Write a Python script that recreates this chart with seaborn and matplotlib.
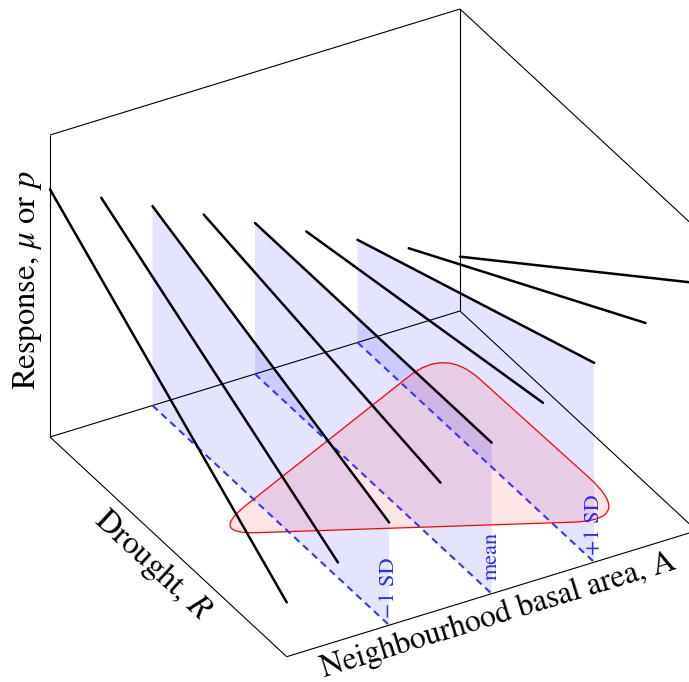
import numpy as np
import pandas as pd
import matplotlib
matplotlib.use("Agg")
import matplotlib.pyplot as plt
from matplotlib.path import Path
from matplotlib.patches import PathPatch
import seaborn as sns

# ---------------- data (unit-cube coordinates) ----------------
# A = neighbourhood basal area, R = drought, Z = response
basal_area_levels = [0.0, 0.125, 0.25, 0.375, 0.5, 0.625, 0.75, 0.875, 1.0]
response_at_low_drought = [0.82, 0.74, 0.66, 0.58, 0.50, 0.42, 0.34, 0.26, 0.18]
response_at_high_drought = [0.18, 0.26, 0.34, 0.42, 0.50, 0.58, 0.66, 0.74, 0.82]
drought_range = [0.0, 1.0]

sd_labels = ["\u22121 SD", "mean", "+1 SD"]
sd_basal_area = [0.25, 0.5, 0.75]

hull_basal_area = [0.10, 0.90, 0.91]
hull_drought = [0.50, 0.11, 0.90]

label_response = "Response, $\\mu$ or $p$"
label_drought = "Drought, $R$"
label_basal = "Neighbourhood basal area, A"

# ---------------- projection (layout) ----------------
ORIGIN = np.array([50.0, 437.0])
VA = np.array([410.0, -126.0])
VR = np.array([236.7, 219.7])
VZ = np.array([0.0, -302.0])


def proj(a, r, z):
    a = np.asarray(a, float)
    r = np.asarray(r, float)
    z = np.asarray(z, float)
    x = ORIGIN[0] + VA[0] * a + VR[0] * r + VZ[0] * z
    y = ORIGIN[1] + VA[1] * a + VR[1] * r + VZ[1] * z
    return x, y


sns.set_theme(style="white")
plt.rcParams["font.family"] = ["STIXGeneral", "DejaVu Serif"]
plt.rcParams["mathtext.fontset"] = "stix"

fig = plt.figure(figsize=(6.89, 6.82), dpi=100)
ax = fig.add_axes([0, 0, 1, 1])

# ---- blue vertical planes at -1 SD, mean, +1 SD ----
for a_sd in sd_basal_area:
    i = basal_area_levels.index(a_sd)
    z0, z1 = response_at_low_drought[i], response_at_high_drought[i]
    px, py = proj([a_sd, a_sd, a_sd, a_sd],
                  [drought_range[0], drought_range[0], drought_range[1], drought_range[1]],
                  [0, z0, z1, 0])
    ax.fill(px, py, color="blue", alpha=0.105, lw=0, zorder=1)

# ---- rounded hull on the floor ----
hx, hy = proj(hull_basal_area, hull_drought, [0, 0, 0])
V = np.column_stack([hx, hy])
corner_d = [47.0, 46.0, 64.0]
verts, codes = [], []
n = len(V)
for k in range(n):
    prev_v, cur, nxt = V[k - 1], V[k], V[(k + 1) % n]
    u1 = (prev_v - cur) / np.linalg.norm(prev_v - cur)
    u2 = (nxt - cur) / np.linalg.norm(nxt - cur)
    p0 = cur + corner_d[k] * u1
    p2 = cur + corner_d[k] * u2
    if k == 0:
        verts.append(p0); codes.append(Path.MOVETO)
    else:
        verts.append(p0); codes.append(Path.LINETO)
    verts += [cur, p2]; codes += [Path.CURVE3, Path.CURVE3]
verts.append(verts[0]); codes.append(Path.LINETO)
verts.append(verts[0]); codes.append(Path.CLOSEPOLY)
hull_path = Path(np.array(verts), codes)
ax.add_patch(PathPatch(hull_path, facecolor=(1, 0, 0, 0.1), edgecolor="red",
                       lw=0.9, zorder=2))

# ---- box edges ----
box_edges = [
    ((0, 0, 0), (0, 0, 1)), ((0, 0, 1), (1, 0, 1)), ((1, 0, 0), (1, 0, 1)),
    ((1, 0, 1), (1, 1, 1)), ((1, 1, 1), (1, 1, 0)),
    ((0, 0, 0), (1, 0, 0)), ((0, 0, 0), (0, 1, 0)),
    ((0, 1, 0), (1, 1, 0)), ((1, 0, 0), (1, 1, 0)),
]
for p, q in box_edges:
    ex, ey = proj([p[0], q[0]], [p[1], q[1]], [p[2], q[2]])
    ax.plot(ex, ey, color="black", lw=0.8, zorder=3, solid_capstyle="butt")

# ---- dashed floor lines ----
dash_rows = []
for j, a_sd in enumerate(sd_basal_area):
    dx, dy = proj([a_sd, a_sd], drought_range, [0, 0])
    for xx, yy in zip(dx, dy):
        dash_rows.append({"line": j, "x": xx, "y": yy})
dash_df = pd.DataFrame(dash_rows)
sns.lineplot(data=dash_df, x="x", y="y", units="line", estimator=None, sort=False,
             color="#3535ff", lw=1.5, dashes=False, ax=ax, legend=False, zorder=4)
for ln in ax.lines[-len(sd_basal_area):]:
    ln.set_dashes((3.4, 2.4))

# ---- response lines ----
rows = []
for i, a in enumerate(basal_area_levels):
    zs = [response_at_low_drought[i], response_at_high_drought[i]]
    lx, ly = proj([a, a], drought_range, zs)
    for xx, yy in zip(lx, ly):
        rows.append({"line": i, "x": xx, "y": yy})
lines_df = pd.DataFrame(rows)
sns.lineplot(data=lines_df, x="x", y="y", units="line", estimator=None, sort=False,
             color="black", lw=1.8, ax=ax, legend=False, zorder=5)

# ---- SD labels ----
for a_sd, lab in zip(sd_basal_area, sd_labels):
    tx, ty = proj(a_sd, 1.0, 0.125)
    ax.text(tx, ty, lab, rotation=90, ha="center", va="center",
            color="#2a2aff", fontsize=16, zorder=6, rotation_mode="anchor")

# ---- axis labels ----
tx, ty = proj(0, 0, 0.52)
ax.text(tx - 22.5, ty, label_response, rotation=90, ha="center", va="center",
        fontsize=23.5, color="black", rotation_mode="anchor")

nr = np.array([-VR[1], VR[0]]) / np.linalg.norm(VR)
tx, ty = proj(0, 0.5, 0)
ang_r = np.degrees(np.arctan2(-VR[1], VR[0]))
ax.text(tx + 24.5 * nr[0], ty + 24.5 * nr[1], label_drought, rotation=ang_r,
        ha="center", va="center", fontsize=23.5, color="black", rotation_mode="anchor")

na = np.array([-VA[1], VA[0]]) / np.linalg.norm(VA)
tx, ty = proj(0.5, 1.0, 0)
ang_a = np.degrees(np.arctan2(-VA[1], VA[0]))
ax.text(tx + 23.0 * na[0], ty + 23.0 * na[1], label_basal, rotation=ang_a,
        ha="center", va="center", fontsize=22.8, color="black", rotation_mode="anchor")

ax.set_xlim(0, 689)
ax.set_ylim(682, 0)
ax.set_axis_off()
fig.savefig("out.png", dpi=100)
